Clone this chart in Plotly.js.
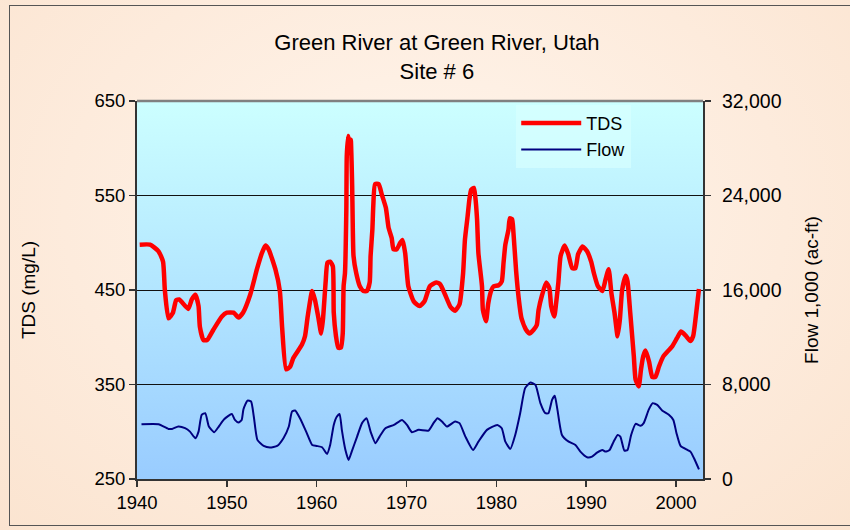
<!DOCTYPE html>
<html>
<head>
<meta charset="utf-8">
<script src="https://cdn.plot.ly/plotly-3.0.1.min.js"></script>
<style>
  html, body { margin:0; padding:0; width:850px; height:530px; overflow:hidden; }
  body { background: radial-gradient(ellipse at 50% 40%, #FFF5EC 0%, #FDEBDC 60%, #FBE4D0 100%); }
  #frame { position:absolute; left:9px; top:5px; width:845px; height:521px; border:1px solid #555; box-sizing:border-box; pointer-events:none; }
  #chart { position:absolute; left:0; top:0; width:850px; height:530px; }
</style>
</head>
<body>
<div id="frame"></div>
<div id="chart"></div>
<script>
// ---- Data ----
const tdsYears = [1940.3,1941.45,1942.4,1942.9,1943.1,1943.5,1944.0,1944.35,1944.7,1945.7,1946.1,1946.5,1946.85,1947.0,1947.4,1947.8,1948.5,1949.45,1950.0,1950.75,1951.3,1951.8,1952.6,1953.35,1953.9,1954.3,1954.65,1955.4,1955.9,1956.15,1956.6,1957.05,1957.4,1958.35,1958.7,1959.0,1959.5,1959.8,1960.2,1960.5,1960.7,1961.0,1961.2,1961.5,1961.8,1961.9,1962.15,1962.4,1962.7,1962.9,1963.0,1963.15,1963.3,1963.35,1963.5,1963.7,1963.8,1963.95,1964.0,1964.1,1964.4,1964.8,1965.2,1965.6,1965.9,1966.0,1966.2,1966.3,1966.5,1966.9,1967.25,1967.7,1968.0,1968.35,1968.55,1968.9,1969.3,1969.55,1969.85,1970.2,1970.8,1971.45,1972.0,1972.6,1973.3,1973.75,1974.3,1974.9,1975.4,1975.9,1976.3,1976.5,1976.8,1977.0,1977.2,1977.5,1977.65,1977.85,1978.0,1978.4,1978.5,1978.85,1979.1,1979.45,1979.7,1980.25,1980.6,1980.8,1981.0,1981.35,1981.5,1981.75,1981.9,1982.2,1982.5,1982.8,1983.3,1983.7,1984.15,1984.5,1984.7,1985.1,1985.55,1985.9,1986.1,1986.45,1986.65,1986.9,1987.15,1987.6,1988.0,1988.45,1988.8,1989.1,1989.6,1990.1,1990.55,1990.85,1991.3,1991.8,1992.15,1992.5,1992.8,1993.15,1993.5,1993.75,1994.0,1994.4,1994.6,1994.9,1995.3,1995.5,1995.85,1996.1,1996.35,1996.6,1997.0,1997.35,1997.7,1998.1,1998.6,1999.55,2000.1,2000.55,2001.05,2001.6,2001.9,2002.2,2002.55];
const tdsValues = [498,498,491,480,450,420,426,439,440,430,440,445,433,411,397,397,408,422,426,426,421,426,445,472,489,497,493,472,449,411,366,369,378,392,401,422,449,440,420,404,419,459,479,480,475,426,401,389,389,404,454,468,535,592,613,595,609,560,528,486,468,454,449,449,458,486,514,539,562,562,551,537,516,505,493,493,500,503,489,454,438,433,438,454,458,456,445,432,428,435,468,503,528,546,556,558,549,525,489,454,429,417,436,450,454,455,459,479,498,514,526,525,511,470,440,420,408,404,408,413,429,445,458,452,433,422,436,458,486,497,488,473,473,488,496,491,480,468,454,449,461,472,447,426,401,419,450,465,459,426,380,355,348,366,380,386,374,358,358,369,380,390,399,406,402,396,401,422,451];

const flowYears = [1940.5,1942.4,1943.5,1943.9,1944.6,1945.35,1945.9,1946.5,1946.85,1947.2,1947.6,1948.0,1948.6,1949.1,1949.7,1950.55,1950.9,1951.3,1951.65,1951.85,1952.3,1952.7,1953.0,1953.4,1954.1,1954.8,1955.6,1956.3,1956.9,1957.25,1957.6,1958.2,1958.9,1959.5,1960.0,1960.6,1961.15,1961.5,1961.9,1962.25,1962.55,1962.8,1963.2,1963.55,1963.9,1964.5,1965.05,1965.55,1966.0,1966.55,1967.0,1967.65,1968.6,1969.5,1970.05,1970.6,1971.35,1972.45,1973.0,1973.45,1973.95,1974.5,1975.4,1975.9,1976.55,1977.4,1978.0,1978.95,1980.1,1980.6,1981.0,1981.55,1982.1,1982.65,1983.2,1983.8,1984.35,1984.9,1985.45,1985.8,1986.2,1986.5,1986.8,1987.3,1988.05,1988.8,1989.35,1990.1,1990.65,1991.2,1991.8,1992.15,1992.6,1993.05,1993.5,1993.8,1994.25,1994.6,1995.0,1995.5,1996.05,1996.4,1996.95,1997.4,1997.9,1998.45,1999.2,1999.7,2000.05,2000.5,2001.25,2001.6,2002.0,2002.55];
const flowValues = [4640,4640,4240,4240,4440,4300,4010,3450,4010,5430,5570,4440,3960,4440,5060,5510,5000,4780,5000,5910,6640,6560,5290,3310,2800,2660,2800,3450,4440,5710,5800,5060,3880,2880,2800,2690,2120,2880,4580,5290,5510,4160,2460,1610,2320,3590,4730,5150,4010,3030,3590,4300,4580,5000,4580,3960,4160,4100,4730,5150,4860,4440,4860,4730,3590,2460,3160,4160,4580,4300,3160,2550,3730,5570,7690,8170,7970,6420,5570,5570,6700,7040,5850,3730,3160,2880,2320,1840,1890,2230,2460,2320,2460,3160,3730,3590,2400,2460,3730,4670,4500,4730,5850,6420,6280,5800,5430,5000,3880,2800,2460,2320,1760,820];

const xTicks = [1940,1950,1960,1970,1980,1990,2000];
const tdsTicks = [250,350,450,550,650];
const flowTicks = [0,8000,16000,24000,32000];
const seriesNames = ['TDS','Flow'];
const chartTitle = 'Green River at Green River, Utah<br>Site # 6';

const FONT = 'Liberation Sans, Arial, sans-serif';

const grad = 'data:image/svg+xml;base64,' + btoa(
  '<svg xmlns="http://www.w3.org/2000/svg" width="10" height="100" preserveAspectRatio="none">' +
  '<defs><linearGradient id="g" x1="0" y1="0" x2="0" y2="1">' +
  '<stop offset="0" stop-color="#CCFFFF"/><stop offset="1" stop-color="#99CCFF"/>' +
  '</linearGradient></defs><rect width="10" height="100" fill="url(#g)"/></svg>');

const traces = [
  { x: tdsYears, y: tdsValues, name: seriesNames[0], type: 'scatter', mode: 'lines',
    line: { color: '#FF0000', width: 4.5, shape: 'spline', smoothing: 0.5 }, yaxis: 'y' },
  { x: flowYears, y: flowValues, name: seriesNames[1], type: 'scatter', mode: 'lines',
    line: { color: '#000080', width: 2, shape: 'spline', smoothing: 0.5 }, yaxis: 'y2' }
];

const TICKFONT = { family: FONT, size: 18.5, color: '#000' };

const layout = {
  width: 850, height: 530,
  margin: { l: 137, r: 147, t: 101, b: 51, pad: 0 },
  paper_bgcolor: 'rgba(0,0,0,0)',
  plot_bgcolor: 'rgba(0,0,0,0)',
  font: { family: FONT, color: '#000', size: 17 },
  title: { text: chartTitle, font: { family: FONT, size: 22, color: '#000' },
           x: 0.514, xanchor: 'center', y: 0.905, yanchor: 'top', yref: 'container' },
  showlegend: true,
  legend: { x: 0.67, y: 0.99, xanchor: 'left', yanchor: 'top',
            bgcolor: 'rgba(215,255,255,0.7)', borderwidth: 0,
            font: { family: FONT, size: 18, color: '#000' },
            itemwidth: 60, tracegroupgap: 0 },
  xaxis: {
    range: [1940, 2003], tickvals: xTicks, ticktext: xTicks.map(String),
    ticks: 'outside', ticklen: 6, tickwidth: 1.5, tickcolor: '#333',
    showline: true, linecolor: '#333', linewidth: 2, showgrid: false, zeroline: false,
    tickfont: TICKFONT
  },
  yaxis: {
    range: [250, 650], tickvals: tdsTicks, ticktext: tdsTicks.map(String),
    ticks: 'outside', ticklen: 6, tickwidth: 1.5, tickcolor: '#333',
    showline: true, linecolor: '#333', linewidth: 2,
    showgrid: true, gridcolor: '#111', gridwidth: 1, zeroline: false,
    tickfont: TICKFONT,
    title: { text: 'TDS (mg/L)', font: { family: FONT, size: 19, color: '#000' }, standoff: 54 }
  },
  yaxis2: {
    range: [0, 32000], tickvals: flowTicks, ticktext: flowTicks.map(v => v.toLocaleString('en-US')),
    overlaying: 'y', side: 'right',
    ticks: 'outside', ticklen: 6, tickwidth: 1.5, tickcolor: '#333', ticklabelstandoff: 7,
    showline: true, linecolor: '#333', linewidth: 2, showgrid: false, zeroline: false,
    tickfont: { family: FONT, size: 19.5, color: '#000' },
    title: { text: 'Flow 1,000 (ac-ft)', font: { family: FONT, size: 19, color: '#000' }, standoff: 24 }
  },
  images: [{ source: grad, xref: 'paper', yref: 'paper', x: 0, y: 1, sizex: 1, sizey: 1,
             xanchor: 'left', yanchor: 'top', sizing: 'stretch', layer: 'below' }],
  shapes: [{ type: 'line', xref: 'paper', yref: 'paper', x0: 0, x1: 1, y0: 1, y1: 1,
             line: { color: '#808080', width: 2.5 } }]
};

Plotly.newPlot('chart', traces, layout, { displayModeBar: false, staticPlot: true });
</script>
</body>
</html>
